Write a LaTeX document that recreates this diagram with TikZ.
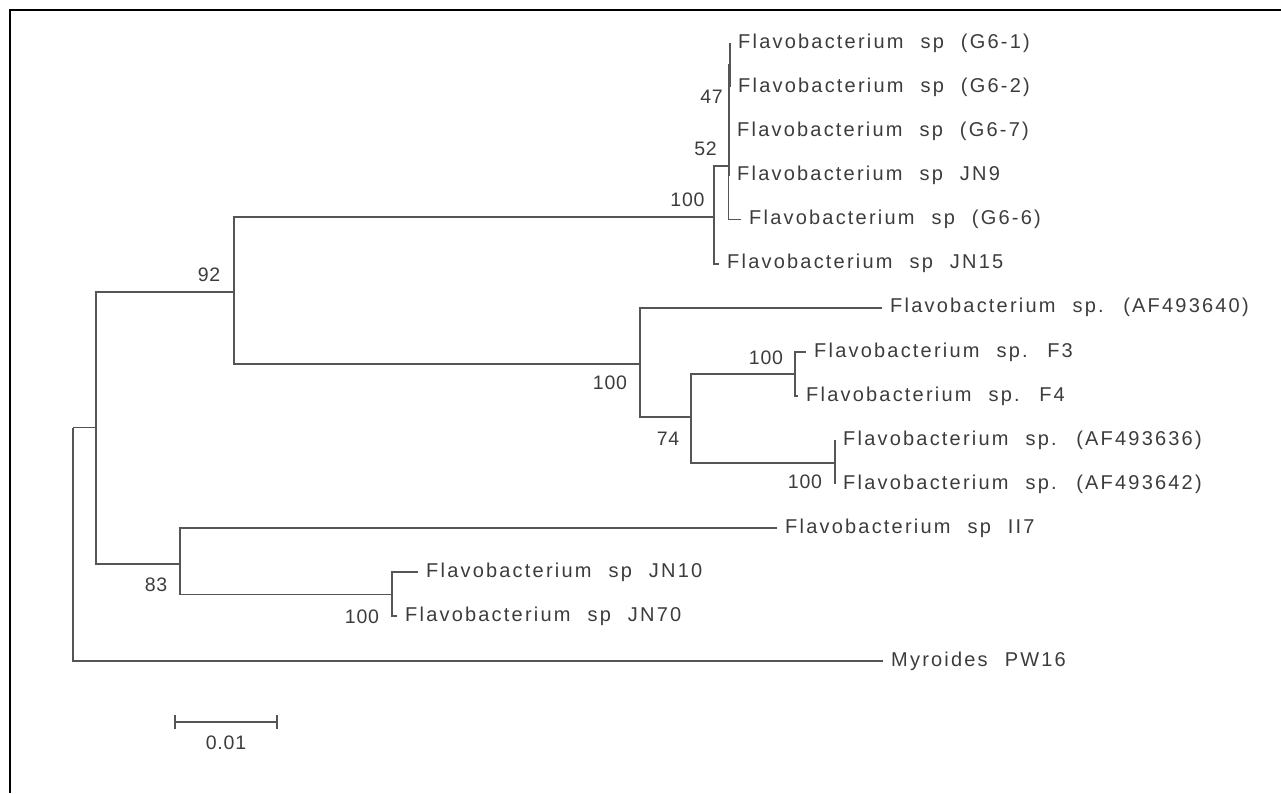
\documentclass[tikz,border=0pt]{standalone}
\usepackage{fontspec}
\newfontfamily\taxfont{Liberation Sans}[LetterSpace=11, WordSpace=2.2]
\newfontfamily\bootfont{Liberation Sans}[LetterSpace=4]
\usetikzlibrary{positioning}
\definecolor{branchgray}{HTML}{555555}
\definecolor{labelgray}{HTML}{3C3C3C}

\begin{document}
\begin{tikzpicture}[
    x=1pt, y=-1pt,
    font=\taxfont\fontsize{20}{22}\selectfont,
    branch/.style={draw=branchgray, line width=1.7pt},
    taxon/.style={anchor=west, inner xsep=8pt, inner ysep=0pt, text=labelgray},
    boot/.style={inner sep=0pt, text=labelgray, font=\bootfont\fontsize{19.5}{21}\selectfont}
  ]
    \useasboundingbox (0,0) rectangle (1281,793);
    \draw[line width=2.5pt] (10,793) -- (10,10) -- (1281,10);

    % internal nodes of the tree
    \coordinate (root) at (73,427.5);
    \coordinate (nfl) at (95.7,427.5);
    \coordinate (n92) at (234,292);
    \coordinate (n83) at (180,564);
    \coordinate (ng6) at (714,217);
    \coordinate (njn9) at (728.5,166);
    \coordinate (n52) at (729,110);
    \coordinate (n47) at (730,65);
    \coordinate (naf) at (640,364);
    \coordinate (n74) at (691,417);
    \coordinate (nf) at (795,374);
    \coordinate (naf36) at (835,463);
    \coordinate (njn) at (392,594.5);

    % taxa
    \node[taxon] (g61) at (730,43.2) {Flavobacterium sp (G6-1)};
    \node[taxon] (g62) at (730,87.3) {Flavobacterium sp (G6-2)};
    \node[taxon] (g67) at (729,131.4) {Flavobacterium sp (G6-7)};
    \node[taxon] (jn9) at (729,175.5) {Flavobacterium sp JN9};
    \node[taxon] (g66) at (741,219.6) {Flavobacterium sp (G6-6)};
    \node[taxon] (jn15) at (719,263.7) {Flavobacterium sp JN15};
    \node[taxon] (af40) at (882,307.8) {Flavobacterium sp. (AF493640)};
    \node[taxon] (f3) at (806,351.9) {Flavobacterium sp. F3};
    \node[taxon] (f4) at (798,396) {Flavobacterium sp. F4};
    \node[taxon] (af36) at (835,440) {Flavobacterium sp. (AF493636)};
    \node[taxon] (af42) at (835,484) {Flavobacterium sp. (AF493642)};
    \node[taxon] (ii7) at (777,528) {Flavobacterium sp II7};
    \node[taxon] (jn10) at (418,572) {Flavobacterium sp JN10};
    \node[taxon] (jn70) at (397,616) {Flavobacterium sp JN70};
    \node[taxon] (pw16) at (883,661) {Myroides PW16};

    % bootstrap values
    \node[boot] (b47) at (711.6,97) {47};
    \node[boot] (b52) at (705.5,149) {52};
    \node[boot] (bg6) at (687.5,200) {100};
    \node[boot] (b92) at (209,275) {92};
    \node[boot] (baf) at (610,383) {100};
    \node[boot] (b74) at (668,439) {74};
    \node[boot] (bf) at (766,358) {100};
    \node[boot] (baf36) at (805,482) {100};
    \node[boot] (b83) at (156,585) {83};
    \node[boot] (bjn) at (362,617) {100};

    % branches
    \foreach \p/\c in {root/nfl,nfl/n92,nfl/n83,n92/ng6,n92/naf,ng6/njn9,njn9/n52,n52/n47,naf/n74,n74/nf,n74/naf36,n83/njn}
      \draw[branch] (\p) |- (\c);
    \foreach \p/\c in {root/pw16,n47/g61,n47/g62,n52/g67,n52/jn9,njn9/g66,ng6/jn15,naf/af40,nf/f3,nf/f4,naf36/af36,naf36/af42,n83/ii7,njn/jn10,njn/jn70}
      \draw[branch] (\p) |- (\c.west);

    % scale bar
    \coordinate (sbl) at (175,722);
    \coordinate (sbr) at (277,722);
    \draw[branch] (sbl) -- (sbr);
    \draw[branch] ([yshift=7pt]sbl) -- ([yshift=-7pt]sbl);
    \draw[branch] ([yshift=7pt]sbr) -- ([yshift=-7pt]sbr);
    \node[boot, below=14pt of sbl, xshift=51pt] (sblab) {0.01};
\end{tikzpicture}
\end{document}
